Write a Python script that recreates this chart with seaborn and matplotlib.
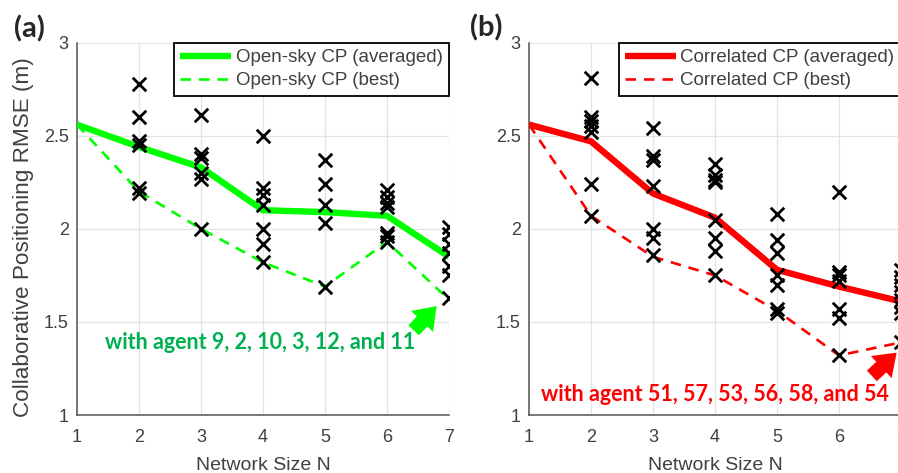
import numpy as np
import pandas as pd
import matplotlib
matplotlib.use("Agg")
import matplotlib.pyplot as plt
import seaborn as sns

# ---------------- data ----------------
sizes = [1, 2, 3, 4, 5, 6, 7]

open_avg = [2.56, 2.44, 2.33, 2.10, 2.09, 2.07, 1.85]
open_best = [2.56, 2.20, 2.00, 1.82, 1.69, 1.93, 1.62]
corr_avg = [2.56, 2.47, 2.19, 2.06, 1.78, 1.69, 1.61]
corr_best = [2.56, 2.07, 1.85, 1.75, 1.56, 1.32, 1.39]

open_n2 = [2.78, 2.60, 2.47, 2.45, 2.22, 2.19]
open_n3 = [2.61, 2.40, 2.38, 2.30, 2.27, 2.00]
open_n4 = [2.50, 2.22, 2.18, 2.13, 2.00, 1.92, 1.82]
open_n5 = [2.37, 2.24, 2.13, 2.03, 1.69]
open_n6 = [2.21, 2.17, 2.14, 2.12, 1.98, 1.96, 1.93]
open_n7 = [2.01, 1.97, 1.92, 1.87, 1.80, 1.75, 1.63]

corr_n2 = [2.81, 2.60, 2.58, 2.55, 2.52, 2.24, 2.07]
corr_n3 = [2.54, 2.39, 2.37, 2.23, 2.00, 1.95, 1.86]
corr_n4 = [2.35, 2.29, 2.26, 2.25, 2.05, 1.95, 1.88, 1.75]
corr_n5 = [2.08, 1.94, 1.87, 1.75, 1.70, 1.57, 1.55]
corr_n6 = [2.20, 1.77, 1.75, 1.72, 1.57, 1.52, 1.32]
corr_n7 = [1.78, 1.74, 1.70, 1.66, 1.62, 1.58, 1.55, 1.39]

open_trials = {2: open_n2, 3: open_n3, 4: open_n4, 5: open_n5, 6: open_n6, 7: open_n7}
corr_trials = {2: corr_n2, 3: corr_n3, 4: corr_n4, 5: corr_n5, 6: corr_n6, 7: corr_n7}

x_ticks = [1, 2, 3, 4, 5, 6, 7]
y_ticks = [1, 1.5, 2, 2.5, 3]
y_ticklabels = ["1", "1.5", "2", "2.5", "3"]

# ---------------- style ----------------
sns.set_theme(style="whitegrid")
plt.rcParams["font.family"] = ["Liberation Sans", "DejaVu Sans"]

GRAY = "#404040"
GREEN = "#00FF00"
RED = "#FF0000"

fig = plt.figure(figsize=(8.98, 4.73), dpi=100)
axL = fig.add_axes([77 / 898, 58 / 473, 372 / 898, 372.3 / 473])
axR = fig.add_axes([529 / 898, 58 / 473, 372 / 898, 372.3 / 473])


def trials_df(trials):
    rows = []
    for n, vals in trials.items():
        for v in vals:
            rows.append({"N": n, "RMSE": v})
    return pd.DataFrame(rows)


def panel(ax, avg, best, trials, color, lab_avg, lab_best):
    sns.lineplot(x=sizes, y=avg, color=color, lw=4.6, label=lab_avg, ax=ax,
                 zorder=3, solid_capstyle="butt")
    sns.lineplot(x=sizes, y=best, color=color, lw=1.9, linestyle=(0, (4, 3)),
                 label=lab_best, ax=ax, zorder=3)
    sns.scatterplot(data=trials_df(trials), x="N", y="RMSE", marker="x",
                    color="black", s=95, linewidth=2.0, ax=ax, zorder=5,
                    legend=False)
    ax.set_xlim(1, 7)
    ax.set_ylim(1, 3)
    ax.set_xticks(x_ticks)
    ax.set_yticks(y_ticks)
    ax.set_yticklabels(y_ticklabels)
    ax.grid(True, color="#e3e3e3", lw=0.9)
    for s in ["top", "right"]:
        ax.spines[s].set_visible(False)
    for s in ["left", "bottom"]:
        ax.spines[s].set_color("#555555")
        ax.spines[s].set_linewidth(1.1)
    ax.tick_params(axis="both", direction="in", length=4, width=1,
                   color="#555555", labelcolor=GRAY, labelsize=13, pad=6)
    ax.tick_params(axis="x", pad=10)
    ax.set_xlabel("Network Size N", fontsize=14, color=GRAY)
    ax.xaxis.label.set_va("center")
    ax.xaxis.set_label_coords(0.5, -0.135)
    ax.set_ylabel("")
    leg = ax.legend(loc="upper right", borderaxespad=0, fancybox=False,
                    edgecolor="black", framealpha=1, fontsize=13.5,
                    handlelength=2.7, handletextpad=0.25, borderpad=0.35,
                    labelspacing=0.3)
    leg.get_frame().set_linewidth(1.3)
    for t in leg.get_texts():
        t.set_color(GRAY)
    leg.set_zorder(10)


panel(axL, open_avg, open_best, open_trials, GREEN,
      "Open-sky CP (averaged)", "Open-sky CP (best)")
panel(axR, corr_avg, corr_best, corr_trials, RED,
      "Correlated CP (averaged)", "Correlated CP (best)")

axL.set_ylabel("Collaborative Positioning RMSE (m)", fontsize=16.2, color=GRAY)
axL.yaxis.label.set_va("center")
axL.yaxis.label.set_ha("center")
axL.yaxis.set_label_coords((24 - 77) / 372, (415 - 237) / 372.3)

# annotations
axL.text(3.96, 1.388, "with agent 9, 2, 10, 3, 12, and 11", color="#00B050",
         fontsize=15.5, fontweight="bold", family=["Lato", "DejaVu Sans"],
         ha="center", va="center", zorder=6)
axR.text(4.0, 1.11, "with agent 51, 57, 53, 56, 58, and 54", color=RED,
         fontsize=15.5, fontweight="bold", family=["Lato", "DejaVu Sans"],
         ha="center", va="center", zorder=6)

arrow_style = "simple,head_width=1.15,head_length=0.8,tail_width=0.55"
axL.annotate("", xy=(6.80, 1.585), xytext=(6.43, 1.455),
             arrowprops=dict(arrowstyle=arrow_style, color=GREEN, lw=0,
                             mutation_scale=19, shrinkA=0, shrinkB=0), zorder=6)
axR.annotate("", xy=(6.93, 1.335), xytext=(6.53, 1.21),
             arrowprops=dict(arrowstyle=arrow_style, color=RED, lw=0,
                             mutation_scale=19, shrinkA=0, shrinkB=0), zorder=6)

fig.text(29 / 898, 1 - 29 / 473, "(a)", fontsize=21, fontweight="bold",
         family=["Lato", "DejaVu Sans"], ha="center", va="center")
fig.text(486 / 898, 1 - 28 / 473, "(b)", fontsize=21, fontweight="bold",
         family=["Lato", "DejaVu Sans"], ha="center", va="center")

fig.savefig("out.png", dpi=100)
